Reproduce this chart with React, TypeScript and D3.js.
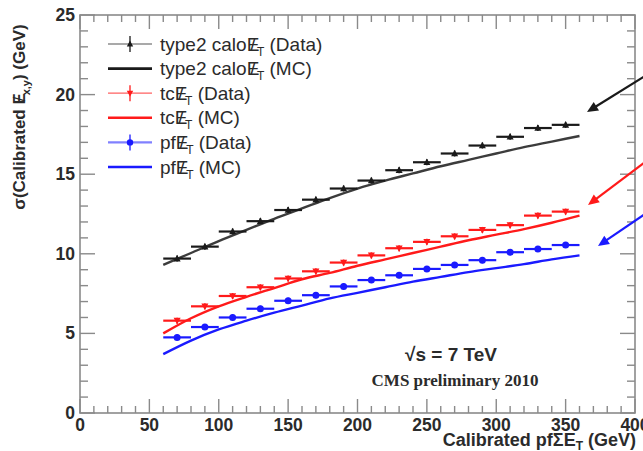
import React from "react";
import * as d3 from "d3";

// Bin centres (GeV) of the measured points, each bin 20 GeV wide
const binCenters = [70, 90, 110, 130, 150, 170, 190, 210, 230, 250, 270, 290, 310, 330, 350];
const caloData = [9.7, 10.45, 11.4, 12.05, 12.75, 13.4, 14.1, 14.6, 15.25, 15.75, 16.3, 16.8, 17.35, 17.9, 18.1];
const tcData = [5.8, 6.7, 7.35, 7.9, 8.45, 8.9, 9.45, 9.9, 10.35, 10.75, 11.1, 11.5, 11.8, 12.4, 12.65];
const pfData = [4.75, 5.4, 6.0, 6.55, 7.05, 7.4, 7.95, 8.35, 8.65, 9.05, 9.3, 9.6, 10.1, 10.3, 10.55];

// Simulation curves sampled every 20 GeV
const mcX = [60, 80, 100, 120, 140, 160, 180, 200, 220, 240, 260, 280, 300, 320, 340, 360];
const caloMC = [9.3, 10.05, 10.8, 11.5, 12.2, 12.85, 13.5, 14.1, 14.6, 15.05, 15.5, 15.9, 16.3, 16.7, 17.05, 17.4];
const tcMC = [5.0, 5.95, 6.7, 7.3, 7.85, 8.4, 8.8, 9.25, 9.65, 10.05, 10.45, 10.85, 11.2, 11.55, 11.95, 12.4];
const pfMC = [3.7, 4.55, 5.25, 5.8, 6.3, 6.75, 7.2, 7.55, 7.9, 8.25, 8.55, 8.85, 9.1, 9.35, 9.65, 9.9];

const xTicks = [0, 50, 100, 150, 200, 250, 300, 350, 400];
const yTicks = [0, 5, 10, 15, 20, 25];

const W = 643;
const H = 451;
const left = 80, right = 635, top = 15, bottom = 413;

const x = d3.scaleLinear().domain([0, 400]).range([left, right]);
const y = d3.scaleLinear().domain([0, 25]).range([bottom, top]);

const BLACK = "#1a1a1a";
const RED = "#ff1a1a";
const BLUE = "#1a1aff";
const AXIS = "#8a8a8a";
const TEXT = "#2b2b2b";

type Marker = "up" | "down" | "circle";

function MarkerShape({ cx, cy, kind, color, r = 3.5 }: { cx: number; cy: number; kind: Marker; color: string; r?: number }) {
  if (kind === "circle") return <circle cx={cx} cy={cy} r={r} fill={color} />;
  const s = kind === "up" ? 1 : -1;
  const pts = [
    [cx, cy - s * r * 1.1],
    [cx - r, cy + s * r * 0.8],
    [cx + r, cy + s * r * 0.8],
  ];
  return <polygon points={pts.map((p) => p.join(",")).join(" ")} fill={color} />;
}

function DataSeries({ values, color, kind }: { values: number[]; color: string; kind: Marker }) {
  return (
    <g>
      {binCenters.map((c, i) => (
        <g key={i}>
          <line x1={x(c - 10)} x2={x(c + 10)} y1={y(values[i])} y2={y(values[i])} stroke={color} strokeWidth={2.2} />
          <line x1={x(c)} x2={x(c)} y1={y(values[i]) - 3} y2={y(values[i]) + 3} stroke={color} strokeWidth={1.5} />
          <MarkerShape cx={x(c)} cy={y(values[i])} kind={kind} color={color} />
        </g>
      ))}
    </g>
  );
}

const line = d3
  .line<number>()
  .x((_, i) => x(mcX[i]))
  .y((d) => y(d))
  .curve(d3.curveMonotoneX);

// Missing-transverse-energy symbol: an E with a slash drawn through it
function SlashE({ sub, subSize }: { sub: string; subSize: number }) {
  return (
    <>
      <tspan>E</tspan>
      <tspan dx="-0.48em" fontWeight="normal">/</tspan>
      <tspan dx="0.12em" fontSize={subSize} dy="5">{sub}</tspan>
    </>
  );
}

const legendRows: { prefix: string; suffix: string; color: string; data: boolean; kind: Marker; lineColor: string; lw: number }[] = [
  { prefix: "type2 calo", suffix: "(Data)", color: BLACK, data: true, kind: "up", lineColor: "#555", lw: 1.2 },
  { prefix: "type2 calo", suffix: "(MC)", color: BLACK, data: false, kind: "up", lineColor: BLACK, lw: 2.6 },
  { prefix: "tc", suffix: "(Data)", color: RED, data: true, kind: "down", lineColor: "#ff6060", lw: 1.2 },
  { prefix: "tc", suffix: "(MC)", color: RED, data: false, kind: "down", lineColor: RED, lw: 2.6 },
  { prefix: "pf", suffix: "(Data)", color: BLUE, data: true, kind: "circle", lineColor: "#8080ff", lw: 2.2 },
  { prefix: "pf", suffix: "(MC)", color: BLUE, data: false, kind: "circle", lineColor: BLUE, lw: 2.6 },
];

function Arrow({ x1, y1, x2, y2, color }: { x1: number; y1: number; x2: number; y2: number; color: string }) {
  const ang = Math.atan2(y2 - y1, x2 - x1);
  const L = 11, Wd = 5;
  const bx = x2 - L * Math.cos(ang), by = y2 - L * Math.sin(ang);
  const px = -Math.sin(ang) * Wd, py = Math.cos(ang) * Wd;
  return (
    <g>
      <line x1={x1} y1={y1} x2={bx + 2 * Math.cos(ang)} y2={by + 2 * Math.sin(ang)} stroke={color} strokeWidth={2.2} />
      <polygon points={`${x2},${y2} ${bx + px},${by + py} ${bx - px},${by - py}`} fill={color} />
    </g>
  );
}

export default function App() {
  const xMinor = d3.range(0, 401, 10);
  const yMinor = d3.range(0, 25.01, 1);
  return (
    <svg width={W} height={H} style={{ position: "absolute", left: 0, top: 0, background: "#fff" }} fontFamily="'Liberation Sans', Arial, sans-serif">
      {/* frame */}
      <rect x={left} y={top} width={right - left} height={bottom - top} fill="none" stroke={AXIS} strokeWidth={1.6} />
      {/* x ticks, bottom and top */}
      {xMinor.map((t) => {
        const major = t % 50 === 0;
        const len = major ? 14 : 7;
        return (
          <g key={"x" + t} stroke={AXIS} strokeWidth={1.4}>
            <line x1={x(t)} x2={x(t)} y1={bottom} y2={bottom - len} />
            <line x1={x(t)} x2={x(t)} y1={top} y2={top + len} />
          </g>
        );
      })}
      {yMinor.map((t) => {
        const major = t % 5 === 0;
        const len = major ? 15 : 8;
        return (
          <g key={"y" + t} stroke={AXIS} strokeWidth={1.4}>
            <line x1={left} x2={left + len} y1={y(t)} y2={y(t)} />
            <line x1={right} x2={right - len} y1={y(t)} y2={y(t)} />
          </g>
        );
      })}
      {xTicks.map((t) => (
        <text key={"xl" + t} x={x(t)} y={431} textAnchor="middle" fontSize="17.5" fontWeight="bold" fill={TEXT}>
          {t}
        </text>
      ))}
      {yTicks.map((t) => (
        <text key={"yl" + t} x={75} y={y(t) + 6} textAnchor="end" fontSize="17.5" fontWeight="bold" fill={TEXT}>
          {t}
        </text>
      ))}
      {/* axis titles */}
      <text x={636} y={446} textAnchor="end" fontSize="18" fontWeight="bold" fill={TEXT}>
        Calibrated pfΣE<tspan fontSize="12" dy="4">T</tspan>
        <tspan dy="-4"> (GeV)</tspan>
      </text>
      <text transform="translate(25,117) rotate(-90)" textAnchor="middle" fontSize="17" fontWeight="bold" fill={TEXT}>
        σ(Calibrated <SlashE sub="x,y" subSize={11} />
        <tspan dy="-5">) (GeV)</tspan>
      </text>

      {/* simulation curves */}
      <path d={line(caloMC) ?? ""} fill="none" stroke={BLACK} strokeWidth={2.4} opacity={0.85} />
      <path d={line(tcMC) ?? ""} fill="none" stroke={RED} strokeWidth={2.4} />
      <path d={line(pfMC) ?? ""} fill="none" stroke={BLUE} strokeWidth={2.4} />

      {/* measured points */}
      <DataSeries values={caloData} color={BLACK} kind="up" />
      <DataSeries values={tcData} color={RED} kind="down" />
      <DataSeries values={pfData} color={BLUE} kind="circle" />

      {/* legend */}
      {legendRows.map((r, i) => {
        const ly = 44 + i * 24.6;
        return (
          <g key={"lg" + i}>
            <line x1={108} x2={152} y1={ly} y2={ly} stroke={r.lineColor} strokeWidth={r.lw} />
            {r.data && (
              <>
                <line x1={130} x2={130} y1={ly - 8} y2={ly + 8} stroke={r.color} strokeWidth={1.3} />
                <MarkerShape cx={130} cy={ly} kind={r.kind} color={r.color} r={3.2} />
              </>
            )}
            <text x={160} y={ly + 6.5} fontSize="19" fill={TEXT}>
              {r.prefix}
              <SlashE sub="T" subSize={12} />
              <tspan dy="-5">{" " + r.suffix}</tspan>
            </text>
          </g>
        );
      })}

      {/* annotations */}
      <text x={451} y={361} textAnchor="middle" fontSize="19" fontWeight="bold" fill={TEXT}>
        √s = 7 TeV
      </text>
      <text x={455} y={386} textAnchor="middle" fontSize="17" fontWeight="bold" fill={TEXT} fontFamily="'Liberation Serif', 'Times New Roman', serif">
        CMS preliminary 2010
      </text>

      {/* pointers */}
      <Arrow x1={645} y1={76} x2={587} y2={112} color={BLACK} />
      <Arrow x1={645} y1={162} x2={588} y2={205} color={RED} />
      <Arrow x1={645} y1={214} x2={598} y2={246} color={BLUE} />
    </svg>
  );
}
